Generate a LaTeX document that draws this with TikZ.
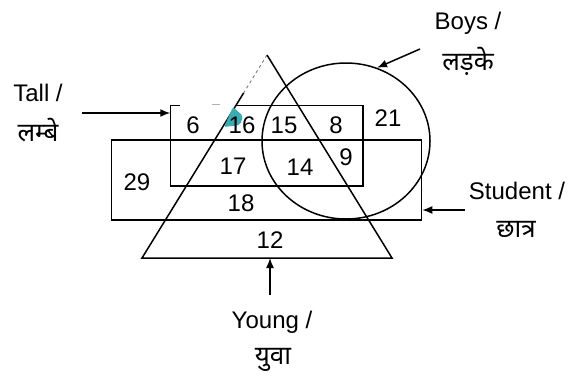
\documentclass[tikz,border=0pt]{standalone}
\usepackage{fontspec}
\setmainfont{Liberation Sans}
\newfontfamily\hindi[Script=Devanagari]{Noto Sans}
\usepackage{tikz}
\usetikzlibrary{arrows.meta,calc,positioning,shapes.geometric}

\definecolor{blobteal}{RGB}{55,172,178}

\begin{document}
\begin{tikzpicture}[x=1pt,y=-1pt,line width=1.5pt,
  num/.style={font=\fontsize{24}{26}\selectfont,inner sep=0pt},
  engl/.style={font=\fontsize{24}{26}\selectfont,inner sep=0pt},
  hind/.style={font=\hindi\fontsize{26}{28}\selectfont,inner sep=0pt},
  pointer/.style={-{Latex[length=10pt,width=8pt]},line width=1.5pt}]
\useasboundingbox (0,0) rectangle (572,378);

% Young triangle
\coordinate (apex) at (267,55);
\coordinate (bl) at (142,258);
\coordinate (br) at (392,258);
\coordinate (cut) at ($(apex)!0.187!(bl)$);
\draw[gray,dashed,line width=0.9pt] (apex) -- (cut);
\draw[line join=miter] (cut) -- (bl) -- (br) -- (apex);

% Student rectangle
\node[draw,rectangle,inner sep=0pt,minimum width=310pt,minimum height=80pt] (student) at (266.5,180) {};

% Tall rectangle, top edge broken
\node[rectangle,inner sep=0pt,minimum width=191pt,minimum height=79pt] (tall) at (266.5,145.5) {};
\draw ($(tall.north west)+(10,0)$) -- (tall.north west) -- (tall.south west)
      -- (tall.south east) -- (tall.north east) -- ($(tall.north west)+(66,0)$);
\draw[gray!60,line width=0.8pt] ($(tall.north west)+(42,-1)$) -- ($(tall.north west)+(50,-1)$);

% Boys circle
\node[draw,ellipse,inner sep=0pt,minimum width=168pt,minimum height=156pt] (boys) at (346,141) {};

% teal smudge
\fill[blobteal,rounded corners=2pt] (224,127) -- (233,107) -- (243,116) -- (240,125) -- cycle;

% region counts
\node[num] (n6) at (193,125) {6};
\node[num] (n16) at (242,125) {16};
\node[num] (n15) at (284,125) {15};
\node[num] (n8) at (336,125) {8};
\node[num] (n21) at (388,118) {21};
\node[num] (n9) at (346,157) {9};
\node[num] (n17) at (233,166) {17};
\node[num] (n14) at (300,167) {14};
\node[num] (n29) at (137,182) {29};
\node[num] (n18) at (241,203) {18};
\node[num] (n12) at (270,240) {12};

% set labels
\node[engl] (tallen) at (38,93) {Tall /};
\node[hind] (tallhi) at (38,130) {लम्बे};
\node[engl] (boysen) at (468,23) {Boys /};
\node[hind] (boyshi) at (468,61) {लड़के};
\node[engl] (studen) at (517,191) {Student /};
\node[hind] (studhi) at (516,229) {छात्र};
\node[engl] (younen) at (272,322) {Young /};
\node[hind] (younhi) at (273,360) {युवा};

% pointers
\coordinate (tallfrom) at (82,113);
\draw[pointer] (tallfrom) -- (tallfrom -| tall.west);
\coordinate (boysfrom) at (420,49);
\draw[pointer] (boysfrom) -- (boys.67);
\coordinate (studfrom) at (465,210);
\draw[pointer] (studfrom) -- (studfrom -| student.east);
\coordinate (younfrom) at (270,295);
\draw[pointer] (younfrom) -- (younfrom |- bl);
\end{tikzpicture}
\end{document}
